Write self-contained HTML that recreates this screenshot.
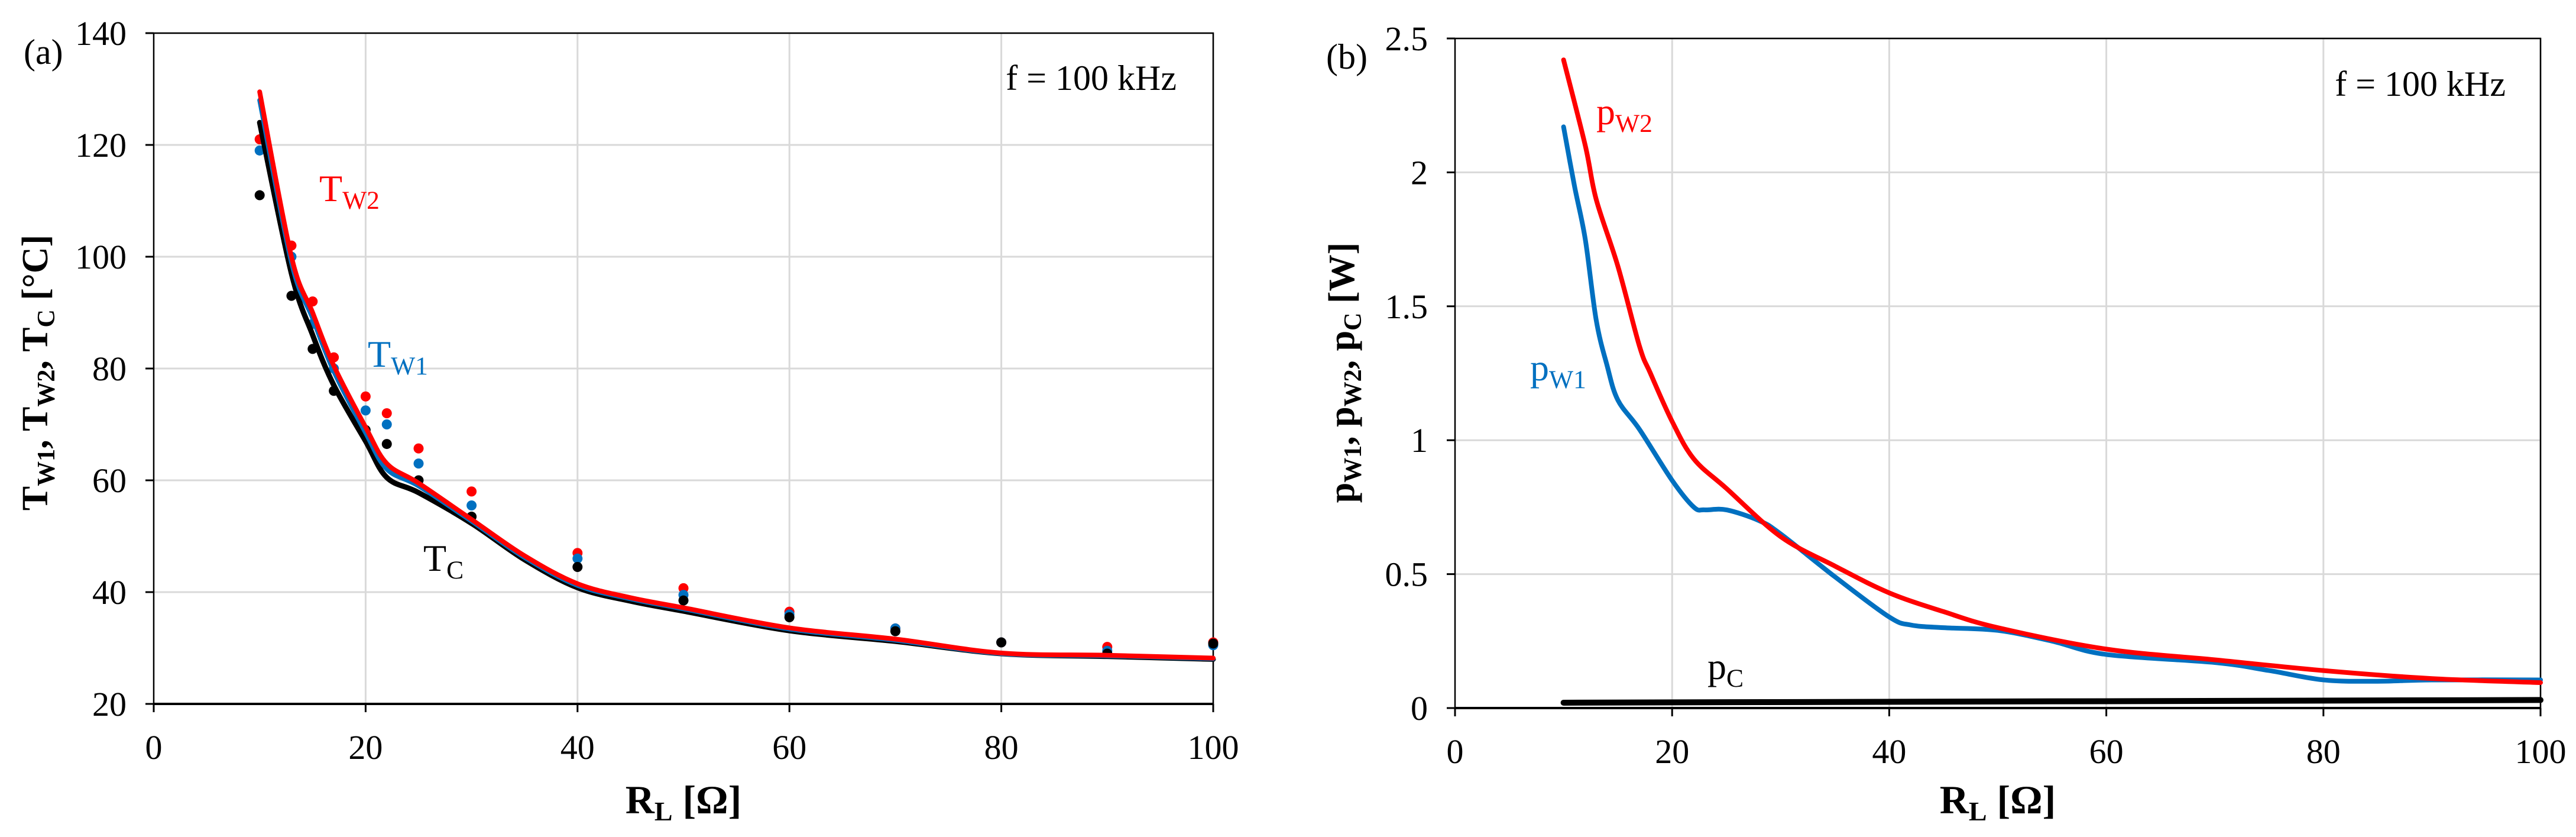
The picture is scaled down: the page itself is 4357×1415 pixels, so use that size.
<!DOCTYPE html>
<html><head><meta charset="utf-8"><style>
html,body{margin:0;padding:0;background:#fff;}
svg{display:block;font-family:"Liberation Serif",serif;}
</style></head><body>
<svg id="root" width="4357" height="1415" viewBox="0 0 4357 1415" xmlns="http://www.w3.org/2000/svg"></svg>
<script>
// ---- Chart (a) data ----
const aLineX = [10,13,15,17,20,22,25,30,35,40,45,50,60,70,80,90,100];
const aTW2 = [129.5,100,90,80.5,69.5,63,59.5,53,46.5,41.5,39,37.2,33.6,31.6,29.1,28.7,28.2];
const aTW1 = [128,99,89,79.5,68.5,62,59,52.7,46.2,41.2,38.8,37,33.4,31.4,29,28.6,28.1];
const aTC = [124,97,86,77,67,60.5,57.8,52.3,45.8,40.8,38.4,36.6,33.1,31.2,29,28.5,28];
const aPtX = [10,13,15,17,20,22,25,30,40,50,60,70,80,90,100];
const aPtTW2 = [121,102,92,82,75,72,65.7,58,47,40.7,36.5,33.5,31,30.2,31];
const aPtTW1 = [119,100,88,80,72.5,70,63,55.5,46,39.5,36,33.5,31,29.5,30.5];
const aPtTC = [111,93,83.5,76,69,66.5,60,53.5,44.5,38.5,35.5,33,31,29,30.8];
const aXTicks = [0,20,40,60,80,100];
const aYTicks = [20,40,60,80,100,120,140];
// ---- Chart (b) data ----
const bW2X = [10,12,13,15,17,18,20,22,25,30,35,40,45,50,60,70,80,90,100];
const bW2 = [2.42,2.1,1.9,1.65,1.35,1.25,1.07,0.93,0.82,0.64,0.53,0.43,0.36,0.3,0.22,0.18,0.14,0.11,0.095];
const bW1X = [10,11,12,13,14,15,17,20,22,23,25,28,30,35,40,42,45,50,55,60,70,75,80,85,90,100];
const bW1 = [2.17,1.95,1.75,1.45,1.28,1.15,1.04,0.85,0.75,0.74,0.74,0.7,0.65,0.49,0.34,0.31,0.3,0.29,0.25,0.2,0.17,0.14,0.105,0.1,0.105,0.105];
const bCX = [10,100];
const bC = [0.02,0.03];
const bXTicks = [0,20,40,60,80,100];
const bYTicks = [0,0.5,1,1.5,2,2.5];
const bYLabels = ["0","0.5","1","1.5","2","2.5"];

const NS="http://www.w3.org/2000/svg";
const root=document.getElementById('root');
function mk(tag,attrs,parent){const e=document.createElementNS(NS,tag);for(const k in attrs)e.setAttribute(k,attrs[k]);(parent||root).appendChild(e);return e;}
function smooth(pts){let d=`M${pts[0][0]},${pts[0][1]}`;for(let i=0;i<pts.length-1;i++){const p0=pts[i-1]||pts[i],p1=pts[i],p2=pts[i+1],p3=pts[i+2]||p2;const c1=[p1[0]+(p2[0]-p0[0])/6,p1[1]+(p2[1]-p0[1])/6];const c2=[p2[0]-(p3[0]-p1[0])/6,p2[1]-(p3[1]-p1[1])/6];d+=` C${c1[0]},${c1[1]} ${c2[0]},${c2[1]} ${p2[0]},${p2[1]}`;}return d;}

function axes(g,L,R,T,B,xMin,xMax,yMin,yMax,xt,yt,ylabels){
  const sx=v=>L+(v-xMin)/(xMax-xMin)*(R-L), sy=v=>B-(v-yMin)/(yMax-yMin)*(B-T);
  xt.forEach(v=>{if(v!==xMin){const l=mk('line',{x1:sx(v),x2:sx(v),y1:T,y2:B,stroke:'#d9d9d9','stroke-width':3},g);}});
  yt.forEach(v=>{if(v!==yMin){const l=mk('line',{x1:L,x2:R,y1:sy(v),y2:sy(v),stroke:'#d9d9d9','stroke-width':3},g);}});
  const fr=mk('rect',{x:L,y:T,width:R-L,height:B-T,fill:'none',stroke:'#000','stroke-width':2.5},g);
  
  const xa=mk('line',{x1:L,x2:R,y1:B,y2:B,stroke:'#000','stroke-width':4},g);
  
  xt.forEach(v=>{mk('line',{x1:sx(v),x2:sx(v),y1:B,y2:B+14,stroke:'#000','stroke-width':3},g);
    const t=mk('text',{x:sx(v),y:B+93,'text-anchor':'middle','font-size':58},g);t.textContent=v;
    });
  yt.forEach((v,i)=>{mk('line',{x1:L-14,x2:L,y1:sy(v),y2:sy(v),stroke:'#000','stroke-width':3},g);
    const t=mk('text',{x:L-46,y:sy(v)+20,'text-anchor':'end','font-size':58},g);t.textContent=ylabels?ylabels[i]:v;
    });
  return [sx,sy];
}
function line(g,xs,ys,sx,sy,color,w,name){const p=mk('path',{d:smooth(xs.map((x,i)=>[sx(x),sy(ys[i])])),fill:'none',stroke:color,'stroke-width':w,'stroke-linejoin':'round','stroke-linecap':'round'},g);
  }
function dots(g,xs,ys,sx,sy,color,name){xs.forEach((x,i)=>{const c=mk('circle',{cx:sx(x),cy:sy(ys[i]),r:8.5,fill:color},g);
  });}
function label(g,x,y,main,sub,color,size,bold,name){const t=mk('text',{x:x,y:y,fill:color,'font-size':size,'font-weight':bold?'bold':'normal'},g);
  
  const a=document.createElementNS(NS,'tspan');a.textContent=main;t.appendChild(a);
  const b=document.createElementNS(NS,'tspan');b.setAttribute('font-size',size*0.68);b.setAttribute('dy',size*0.2);b.textContent=sub;t.appendChild(b);return t;}

// ---- Chart (a) ----
const ga=mk('g',{});
const [ax,ay]=axes(ga,260,2052,56,1190,0,100,20,140,aXTicks,aYTicks);
dots(ga,aPtX,aPtTW2,ax,ay,'#ff0000','tw2-point');
dots(ga,aPtX,aPtTW1,ax,ay,'#0070c0','tw1-point');
dots(ga,aPtX,aPtTC,ax,ay,'#000','tc-point');
line(ga,aLineX,aTC,ax,ay,'#000',9,'tc-line');
line(ga,aLineX,aTW1,ax,ay,'#0070c0',8,'tw1-line');
line(ga,aLineX,aTW2,ax,ay,'#ff0000',8,'tw2-line');
let t=mk('text',{x:40,y:108,'font-size':60},ga);t.textContent='(a)';
t=mk('text',{x:1990,y:152,'font-size':60,'text-anchor':'end'},ga);t.textContent='f = 100 kHz';
label(ga,540,340,'T','W2','#ff0000',64,false,'tw2-label');
label(ga,622,620,'T','W1','#0070c0',64,false,'tw1-label');
label(ga,716,965,'T','C','#000',64,false,'tc-label');
t=mk('text',{x:1156,y:1375,'font-size':68,'font-weight':'bold','text-anchor':'middle'},ga);
t.innerHTML='R<tspan font-size="46" dy="12">L</tspan><tspan dy="-12"> [Ω]</tspan>';
t=mk('text',{x:0,y:0,'font-size':62,'font-weight':'bold','text-anchor':'middle',transform:'translate(80,630) rotate(-90)'},ga);
t.innerHTML='T<tspan font-size="42" dy="12">W1</tspan><tspan dy="-12">, T</tspan><tspan font-size="42" dy="12">W2</tspan><tspan dy="-12">, T</tspan><tspan font-size="42" dy="12">C</tspan><tspan dy="-12"> [°C]</tspan>';

// ---- Chart (b) ----
const gb=mk('g',{});
const [bx,by]=axes(gb,2461,4297,65,1197,0,100,0,2.5,bXTicks,bYTicks,bYLabels);
line(gb,bCX,bC,bx,by,'#000',10,'pc-line');
line(gb,bW1X,bW1,bx,by,'#0070c0',8,'pw1-line');
line(gb,bW2X,bW2,bx,by,'#ff0000',8,'pw2-line');
t=mk('text',{x:2243,y:116,'font-size':60},gb);t.textContent='(b)';
t=mk('text',{x:4238,y:162,'font-size':60,'text-anchor':'end'},gb);t.textContent='f = 100 kHz';
label(gb,2700,210,'p','W2','#ff0000',64,false,'pw2-label');
label(gb,2588,643,'p','W1','#0070c0',64,false,'pw1-label');
label(gb,2888,1148,'p','C','#000',64,false,'pc-label');
t=mk('text',{x:3379,y:1375,'font-size':68,'font-weight':'bold','text-anchor':'middle'},gb);
t.innerHTML='R<tspan font-size="46" dy="12">L</tspan><tspan dy="-12"> [Ω]</tspan>';
t=mk('text',{x:0,y:0,'font-size':62,'font-weight':'bold','text-anchor':'middle',transform:'translate(2290,630) rotate(-90)'},gb);
t.innerHTML='p<tspan font-size="42" dy="12">W1</tspan><tspan dy="-12">, p</tspan><tspan font-size="42" dy="12">W2</tspan><tspan dy="-12">, p</tspan><tspan font-size="42" dy="12">C</tspan><tspan dy="-12"> [W]</tspan>';
</script>
</body></html>
